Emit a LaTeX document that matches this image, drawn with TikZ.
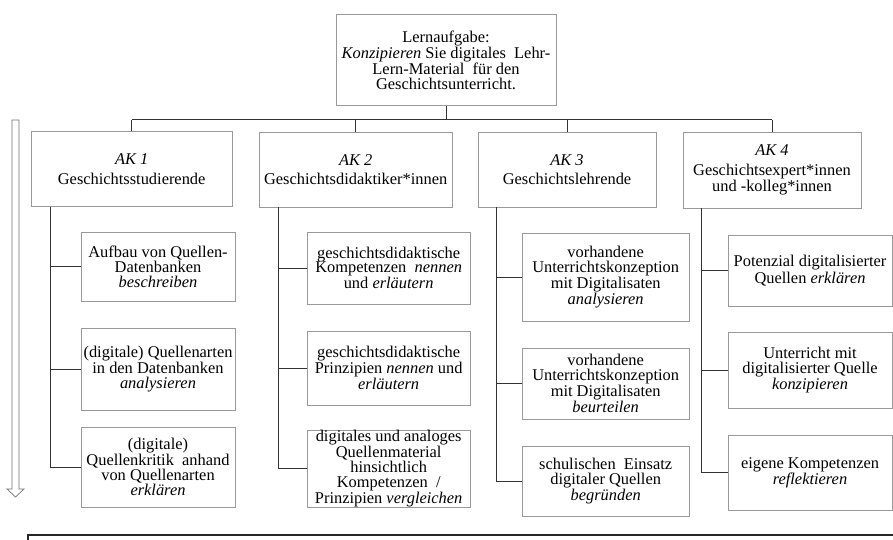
\documentclass[tikz,border=0pt]{standalone}
\usepackage{fontspec}
\setmainfont{Liberation Serif}
\usetikzlibrary{calc}

\begin{document}
\begin{tikzpicture}[
  box/.style={draw=black!40,rectangle,fill=white,align=center,inner sep=2pt,font=\fontsize{14}{12.6}\selectfont},
  akbox/.style={box,minimum height=2.25cm},
  link/.style={draw=black!80,line width=0.6pt}
]
\clip (0,0) rectangle (26.79,-16.2);
\fill[white] (0,0) rectangle (26.79,-16.2);

\node[box,minimum width=6.6cm,minimum height=2.73cm] (LA) at (13.38,-1.8) {Lernaufgabe:\\\textit{Konzipieren} Sie digitales\ \ Lehr-\\Lern-Material\ \ für den\\Geschichtsunterricht.};

\node[akbox,minimum width=6.03cm] (AK1) at (3.95,-5.07) {\textit{AK\ 1}\\[4pt]Geschichtsstudierende};
\node[akbox,minimum width=5.79cm] (AK2) at (10.67,-5.09) {\textit{AK\ 2}\\[4pt]Geschichtsdidaktiker*innen};
\node[akbox,minimum width=5.34cm] (AK3) at (17.01,-5.09) {\textit{AK\ 3}\\[4pt]Geschichtslehrende};
\node[akbox,minimum width=5.34cm,minimum height=2.28cm] (AK4) at (23.16,-5.1) {\textit{AK\ 4}\\[4pt]Geschichtsexpert*innen\\und -kolleg*innen};

% Tree
\coordinate (BUS) at ($(LA.south)+(0,-0.42)$);
\draw[link] (LA.south) -- (BUS);
\draw[link] (AK1.north |- BUS) -- (AK4.north |- BUS);
\foreach\a in {1,...,4} {
  \draw[link] (AK\a.north |- BUS) -- (AK\a.north);
}

% AK 1
\node[box,minimum width=4.62cm,minimum height=2.07cm] (Z11) at (4.74,-8.0) {Aufbau von Quellen-\\Datenbanken\\\textit{beschreiben}};
\node[box,minimum width=4.62cm,minimum height=2.46cm] (Z12) at (4.74,-11.07) {(digitale) Quellenarten\\in den Datenbanken\\\textit{analysieren}};
\node[box,minimum width=4.62cm,minimum height=2.4cm] (Z13) at (4.74,-14.01) {(digitale)\\Quellenkritik\ \ anhand\\von Quellenarten\\\textit{erklären}};

% AK 2
\node[box,minimum width=4.89cm,minimum height=2.16cm] (Z21) at (11.66,-8.04) {geschichtsdidaktische\\Kompetenzen\ \ \textit{nennen}\\und \textit{erläutern}};
\node[box,minimum width=4.89cm,minimum height=2.22cm] (Z22) at (11.66,-11.04) {geschichtsdidaktische\\Prinzipien \textit{nennen} und\\\textit{erläutern}};
\node[box,minimum width=4.89cm,minimum height=2.13cm,inner sep=0pt] (Z23) at (11.66,-14.06) {digitales\ und analoges\\Quellenmaterial\\hinsichtlich\\Kompetenzen\ \ /\\Prinzipien \textit{vergleichen}};

% AK 3
\node[box,minimum width=5.01cm,minimum height=2.64cm] (Z31) at (18.17,-8.31) {vorhandene\\Unterrichtskonzeption\\mit Digitalisaten\\\textit{analysieren}};
\node[box,minimum width=5.01cm,minimum height=2.13cm] (Z32) at (18.17,-11.51) {vorhandene\\Unterrichtskonzeption\\mit Digitalisaten\\\textit{beurteilen}};
\node[box,minimum width=5.01cm,minimum height=2.1cm] (Z33) at (18.17,-14.43) {schulischen\ \ Einsatz\\digitaler Quellen\\\textit{begründen}};

% AK 4
\node[box,minimum width=4.92cm,minimum height=2.13cm] (Z41) at (24.3,-8.12) {Potenzial digitalisierter\\Quellen \textit{erklären}};
\node[box,minimum width=4.92cm,minimum height=2.28cm] (Z42) at (24.3,-11.1) {Unterricht mit\\digitalisierter Quelle\\\textit{konzipieren}};
\node[box,minimum width=4.92cm,minimum height=2.25cm] (Z43) at (24.3,-14.18) {eigene Kompetenzen\\\textit{reflektieren}};

\foreach\a in {1,...,4} {
  \foreach\b in {1,2,3} {
    \draw[link] ($(AK\a.south west)+(0.57,0)$) |- (Z\a\b.west);
  }
}

% hollow arrow on the left
\draw[black!55,line width=0.6pt] (0.36,-3.6) -- (0.57,-3.6) -- (0.57,-14.67) -- (0.72,-14.67) -- (0.465,-14.91) -- (0.21,-14.67) -- (0.36,-14.67) -- cycle;

% box cut at the bottom
\draw[black!85,line width=1pt] (0.84,-16.05) rectangle (27.5,-17.5);
\end{tikzpicture}
\end{document}
